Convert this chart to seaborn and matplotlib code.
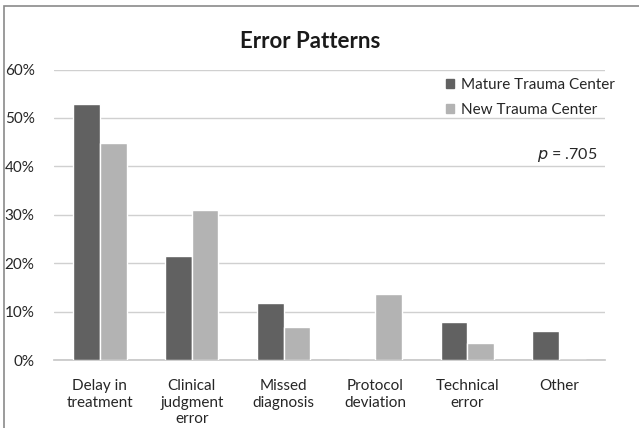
import matplotlib
matplotlib.use("Agg")
import matplotlib.pyplot as plt
import seaborn as sns
import pandas as pd
from matplotlib.patches import Rectangle
from matplotlib.ticker import FuncFormatter

categories = ["Delay in\ntreatment", "Clinical\njudgment\nerror", "Missed\ndiagnosis",
              "Protocol\ndeviation", "Technical\nerror", "Other"]
mature = [52.9, 21.5, 11.7, 0.0, 7.8, 5.9]
new = [44.8, 30.9, 6.9, 13.7, 3.5, 0.0]
series = ["Mature Trauma Center", "New Trauma Center"]
colors = ["#616161", "#b3b3b3"]

df = pd.DataFrame({
    "category": categories * 2,
    "value": mature + new,
    "center": [series[0]] * len(categories) + [series[1]] * len(categories),
})

sns.set_theme(style="white")
plt.rcParams["font.family"] = ["Lato", "DejaVu Sans"]

W, H = 639, 428
fig = plt.figure(figsize=(W / 100, H / 100), dpi=100)
ax = fig.add_axes([54 / W, (H - 360) / H, (605 - 54) / W, (360 - 69.5) / H])

sns.barplot(data=df, x="category", y="value", hue="center", palette=colors,
            width=0.58, saturation=1, ax=ax, legend=False, zorder=3)

ax.set_ylim(0, 60)
ax.set_yticks(range(0, 61, 10))
ax.yaxis.set_major_formatter(FuncFormatter(lambda v, _: f"{v:.0f}%"))
ax.grid(axis="y", color="#d0d0d0", linewidth=1, zorder=0)
for s in ["left", "right", "top"]:
    ax.spines[s].set_visible(False)
ax.spines["bottom"].set_color("#c8c8c8")
ax.set_xlabel("")
ax.set_ylabel("")
ax.tick_params(axis="y", length=0, pad=14, labelsize=11, colors="#262626")
ax.tick_params(axis="x", length=0, pad=14, labelsize=11, colors="#262626")
for lbl in ax.get_xticklabels():
    lbl.set_linespacing(1.2)
    lbl.set_verticalalignment("top")

handles = [Rectangle((0, 0), 1, 1, color=c) for c in colors]
fig.legend(handles, series, loc="upper left", bbox_to_anchor=(432 / W, 1 - 64 / H),
           frameon=False, fontsize=11, handlelength=0.55, handleheight=0.55,
           handletextpad=0.45, labelspacing=0.75, labelcolor="#262626")

fig.text(597 / W, 1 - 155 / H, "$p$ = .705", ha="right", va="center",
         fontsize=11.5, color="#262626")
fig.text(310 / W, 1 - 42 / H, "Error Patterns", ha="center", va="center",
         fontsize=16, fontweight="bold", color="#1a1a1a")

fig.patches.append(Rectangle((4 / W, -0.1), 1.1, 1 - 6 / H + 0.1,
                             transform=fig.transFigure, fill=False,
                             edgecolor="#8a8a8a", linewidth=1.2))

fig.savefig("out.png", dpi=100)
